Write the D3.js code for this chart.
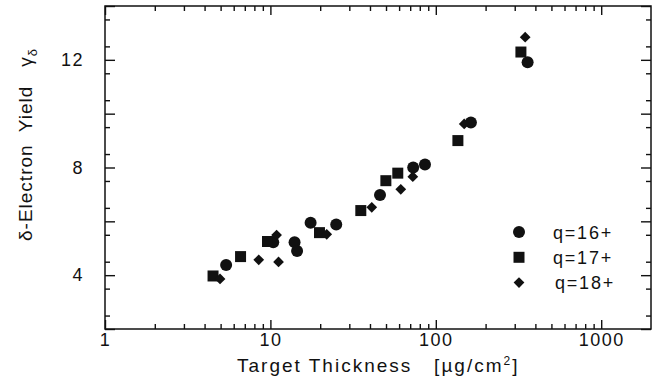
<!DOCTYPE html>
<html>
<head>
<meta charset="utf-8">
<script src="https://cdn.jsdelivr.net/npm/d3@7"></script>
<style>
  html, body { margin: 0; padding: 0; background: #fff; }
  svg { display: block; }
  text { font-family: "Liberation Sans", Arial, Helvetica, sans-serif; fill: #111; }
</style>
</head>
<body>
<svg id="chart" width="657" height="379"></svg>
<script>
// Delta-electron yield vs target thickness, three projectile charge states
const q16Thickness = [5.4, 10.4, 14.0, 14.5, 17.5, 25, 46, 73, 86, 163, 359];
const q16Yield     = [4.38, 5.22, 5.22, 4.90, 5.95, 5.88, 6.98, 8.0, 8.11, 9.67, 11.91];

const q17Thickness = [4.5, 6.6, 9.6, 19.8, 35.2, 49.9, 58.9, 136, 327];
const q17Yield     = [3.97, 4.69, 5.25, 5.58, 6.40, 7.51, 7.79, 9.0, 12.29];

const q18Thickness = [4.96, 8.5, 10.9, 11.2, 21.9, 41, 61.4, 72.6, 148.5, 347];
const q18Yield     = [3.86, 4.57, 5.49, 4.49, 5.52, 6.52, 7.19, 7.66, 9.62, 12.84];

const seriesLabels = ["q=16+", "q=17+", "q=18+"];
const seriesShapes = ["circle", "square", "diamond"];

const xMajorTicks = [1, 10, 100, 1000];
const yLabelTicks = [4, 8, 12];

const svg = d3.select("#chart");
const plotLeft = 105, plotRight = 651, plotTop = 6, plotBottom = 329;

const x = d3.scaleLog().domain([1, 2000]).range([plotLeft, plotRight]);
const y = d3.scaleLinear().domain([2, 14]).range([plotBottom, plotTop]);

const ink = "#111";

// minor tick values
const xMinor = [];
[1, 10, 100, 1000].forEach(d => { for (let k = 2; k <= 9; k++) if (d * k < 2000) xMinor.push(d * k); });
const yMinor = d3.range(2.5, 14, 1);
const yMajor = d3.range(2, 14.01, 2);

function styleAxis(g) {
  g.select(".domain").remove();
  g.selectAll(".tick line").attr("stroke", ink).attr("stroke-width", 1.4);
}

// bottom axis: inward ticks
svg.append("g").attr("transform", `translate(0,${plotBottom})`)
  .call(d3.axisBottom(x).tickValues(xMinor).tickSize(-5).tickFormat(""))
  .call(styleAxis);
svg.append("g").attr("transform", `translate(0,${plotBottom})`)
  .call(d3.axisBottom(x).tickValues(xMajorTicks).tickSize(-9).tickPadding(4).tickFormat(d3.format("d")))
  .call(styleAxis)
  .call(g => g.selectAll("text").attr("font-size", 18).attr("fill", ink).attr("letter-spacing", 1.5));

// top axis mirror
svg.append("g").attr("transform", `translate(0,${plotTop})`)
  .call(d3.axisTop(x).tickValues(xMinor).tickSize(-5).tickFormat(""))
  .call(styleAxis);
svg.append("g").attr("transform", `translate(0,${plotTop})`)
  .call(d3.axisTop(x).tickValues(xMajorTicks).tickSize(-9).tickFormat(""))
  .call(styleAxis);

// left axis
svg.append("g").attr("transform", `translate(${plotLeft},0)`)
  .call(d3.axisLeft(y).tickValues(yMinor).tickSize(-5).tickFormat(""))
  .call(styleAxis);
svg.append("g").attr("transform", `translate(${plotLeft},0)`)
  .call(d3.axisLeft(y).tickValues(yMajor).tickSize(-10).tickFormat(""))
  .call(styleAxis);
svg.append("g").attr("transform", `translate(${plotLeft},0)`)
  .call(d3.axisLeft(y).tickValues(yLabelTicks).tickSize(0).tickPadding(21).tickFormat(d3.format("d")))
  .call(styleAxis)
  .call(g => g.selectAll("text").attr("font-size", 18).attr("fill", ink).attr("letter-spacing", 1.5));

// right axis mirror
svg.append("g").attr("transform", `translate(${plotRight},0)`)
  .call(d3.axisRight(y).tickValues(yMinor).tickSize(-5).tickFormat(""))
  .call(styleAxis);
svg.append("g").attr("transform", `translate(${plotRight},0)`)
  .call(d3.axisRight(y).tickValues(yMajor).tickSize(-10).tickFormat(""))
  .call(styleAxis);

// frame
svg.append("rect")
  .attr("x", plotLeft).attr("y", plotTop)
  .attr("width", plotRight - plotLeft).attr("height", plotBottom - plotTop)
  .attr("fill", "none").attr("stroke", ink).attr("stroke-width", 1.5);

// markers
const symbolFor = {
  circle: d3.symbol().type(d3.symbolCircle).size(Math.PI * 6 * 6),
  square: d3.symbol().type(d3.symbolSquare).size(11 * 11),
  diamond: d3.symbol().type(d3.symbolSquare).size(7.6 * 7.6)
};
function shapePath(shape) { return symbolFor[shape](); }
function shapeRotate(shape) { return shape === "diamond" ? " rotate(45)" : ""; }

const series = [
  { xs: q16Thickness, ys: q16Yield, shape: seriesShapes[0] },
  { xs: q17Thickness, ys: q17Yield, shape: seriesShapes[1] },
  { xs: q18Thickness, ys: q18Yield, shape: seriesShapes[2] }
];

series.forEach(s => {
  svg.append("g").selectAll("path")
    .data(s.xs.map((t, i) => [t, s.ys[i]]))
    .join("path")
    .attr("d", shapePath(s.shape))
    .attr("transform", d => `translate(${x(d[0])},${y(d[1])})${shapeRotate(s.shape)}`)
    .attr("fill", ink);
});

// legend
const legend = svg.append("g");
seriesLabels.forEach((lab, i) => {
  const cy = 232 + i * 25.3;
  legend.append("path")
    .attr("d", shapePath(seriesShapes[i]))
    .attr("transform", `translate(519,${cy})${shapeRotate(seriesShapes[i])}`)
    .attr("fill", ink);
  legend.append("text")
    .attr("x", i === 2 ? 555 : 553).attr("y", cy + 6.5)
    .attr("font-size", 18).attr("letter-spacing", 1.8)
    .text(lab);
});

// x-axis title
const xt = svg.append("text")
  .attr("x", 237).attr("y", 372)
  .attr("font-size", 19).attr("letter-spacing", 2)
  .style("white-space", "pre");
xt.append("tspan").text("Target Thickness   [\u00b5g/cm");
xt.append("tspan").attr("dy", -7).attr("font-size", 12).text("2");
xt.append("tspan").attr("dy", 7).text("]");

// y-axis title
const yt = svg.append("text")
  .attr("transform", "translate(32,241) rotate(-90)")
  .attr("font-size", 19).attr("letter-spacing", 1)
  .style("white-space", "pre");
yt.append("tspan").text("\u03b4-Electron  Yield   \u03b3");
yt.append("tspan").attr("dy", 5).attr("font-size", 13).text("\u03b4");
</script>
</body>
</html>
